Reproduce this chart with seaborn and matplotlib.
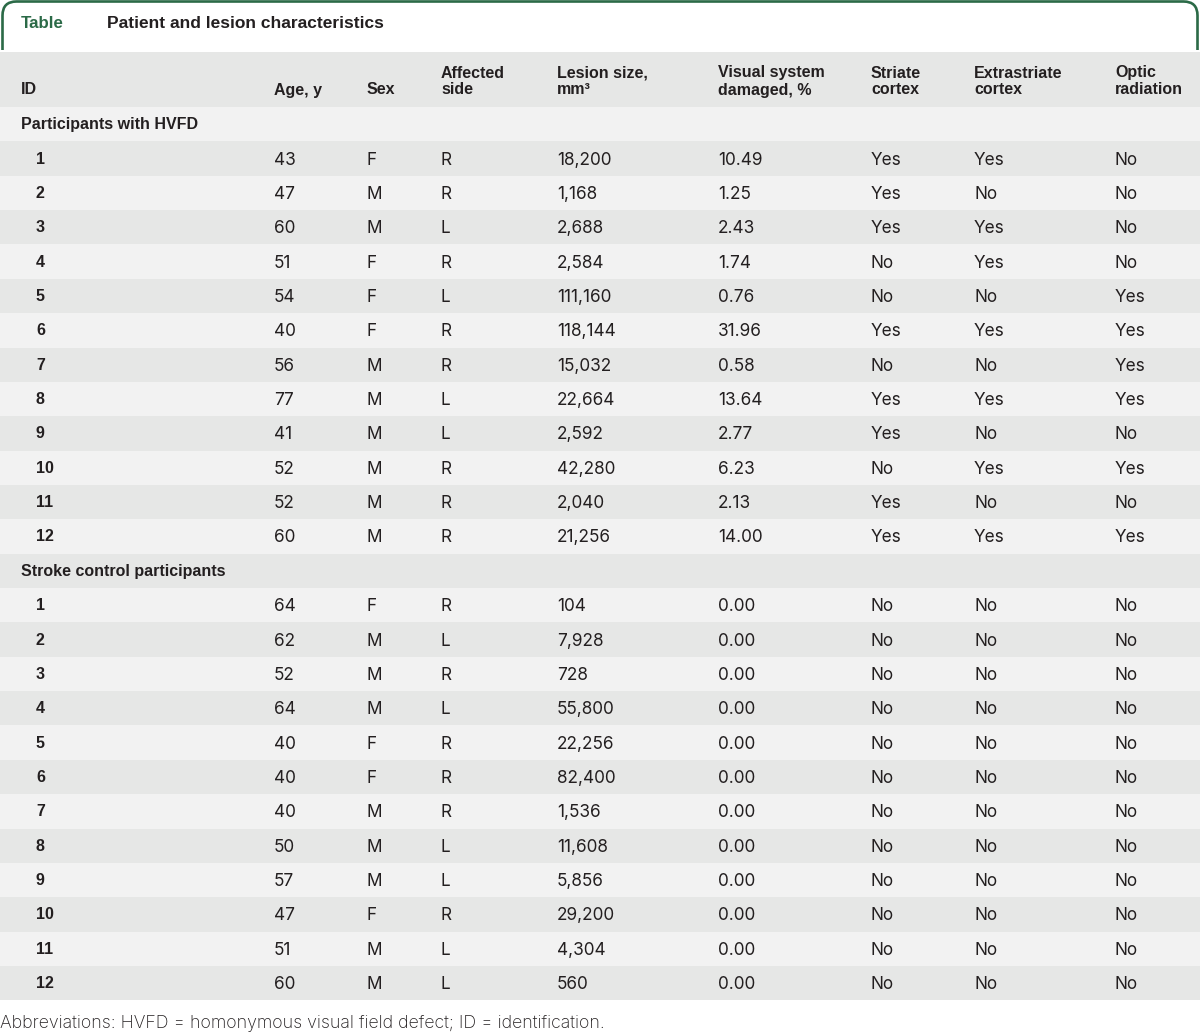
import matplotlib
matplotlib.use("Agg")
import matplotlib.pyplot as plt
import seaborn as sns
import numpy as np
import pandas as pd
from matplotlib.patches import FancyBboxPatch, Rectangle

# ---- table data ----
groups = ["Participants with HVFD", "Stroke control participants"]
ids = list(range(1, 13))

hvfd_age = [43, 47, 60, 51, 54, 40, 56, 77, 41, 52, 52, 60]
hvfd_sex = ["F", "M", "M", "F", "F", "F", "M", "M", "M", "M", "M", "M"]
hvfd_side = ["R", "R", "L", "R", "L", "R", "R", "L", "L", "R", "R", "R"]
hvfd_lesion = [18200, 1168, 2688, 2584, 111160, 118144, 15032, 22664, 2592, 42280, 2040, 21256]
hvfd_visual = [10.49, 1.25, 2.43, 1.74, 0.76, 31.96, 0.58, 13.64, 2.77, 6.23, 2.13, 14.00]
hvfd_striate = ["Yes", "Yes", "Yes", "No", "No", "Yes", "No", "Yes", "Yes", "No", "Yes", "Yes"]
hvfd_extra = ["Yes", "No", "Yes", "Yes", "No", "Yes", "No", "Yes", "No", "Yes", "No", "Yes"]
hvfd_optic = ["No", "No", "No", "No", "Yes", "Yes", "Yes", "Yes", "No", "Yes", "No", "Yes"]

ctrl_age = [64, 62, 52, 64, 40, 40, 40, 50, 57, 47, 51, 60]
ctrl_sex = ["F", "M", "M", "M", "F", "F", "M", "M", "M", "F", "M", "M"]
ctrl_side = ["R", "L", "R", "L", "R", "R", "R", "L", "L", "R", "L", "L"]
ctrl_lesion = [104, 7928, 728, 55800, 22256, 82400, 1536, 11608, 5856, 29200, 4304, 560]
ctrl_visual = [0.0] * 12
ctrl_striate = ["No"] * 12
ctrl_extra = ["No"] * 12
ctrl_optic = ["No"] * 12

headers = ["ID", "Age, y", "Sex", "Affected\nside", "Lesion size,\nmm³",
           "Visual system\ndamaged, %", "Striate\ncortex", "Extrastriate\ncortex",
           "Optic\nradiation"]
title = "Patient and lesion characteristics"
footnote = "Abbreviations: HVFD = homonymous visual field defect; ID = identification."


def group_frame(name, age, sex, side, lesion, visual, striate, extra, optic):
    return pd.DataFrame({
        "group": name, "id": ids, "age": age, "sex": sex, "side": side,
        "lesion": [f"{v:,}" for v in lesion],
        "visual": [f"{v:.2f}" for v in visual],
        "striate": striate, "extra": extra, "optic": optic,
    })


df = pd.concat([
    group_frame(groups[0], hvfd_age, hvfd_sex, hvfd_side, hvfd_lesion, hvfd_visual,
                hvfd_striate, hvfd_extra, hvfd_optic),
    group_frame(groups[1], ctrl_age, ctrl_sex, ctrl_side, ctrl_lesion, ctrl_visual,
                ctrl_striate, ctrl_extra, ctrl_optic),
], ignore_index=True)

# ---- styling / layout ----
sns.set_theme(style="white")
plt.rcParams["font.family"] = ["Liberation Sans", "DejaVu Sans"]
BODY_FONT = ["Inter", "DejaVu Sans"]

GREEN = "#2b6a47"
TEXT = "#231f20"
LIGHT = "#f2f2f2"
DARK = "#e6e7e6"

col_x = [21, 274, 367, 441, 557, 718, 871, 974, 1115]
value_cols = ["age", "sex", "side", "lesion", "visual", "striate", "extra", "optic"]
body_top = 107
row_h = 34.36
fs = 11.5      # bold header text
fs_body = 12.4  # regular cell text
dy = 1.5        # small baseline nudge for cell text

fig = plt.figure(figsize=(12, 10.35), dpi=100)
ax = fig.add_axes([0, 0, 1, 1])
ax.set_xlim(0, 1200)
ax.set_ylim(1035, 0)
ax.axis("off")

# green tab frame
frame = FancyBboxPatch((2.5, 1.5), 1195, 120, boxstyle="round,pad=0,rounding_size=14",
                       facecolor="none", edgecolor=GREEN, linewidth=1.9, zorder=1)
ax.add_patch(frame)
ax.add_patch(Rectangle((0, 49.5), 1200, 60, facecolor="white", edgecolor="none", zorder=2))
ax.text(21, 24, "Table", color=GREEN, fontsize=12.2, fontweight="bold", va="center", zorder=5)
ax.text(107, 24, title, color=TEXT, fontsize=12.5, fontweight="bold", va="center", zorder=5)

# header band
ax.add_patch(Rectangle((0, 52), 1200, body_top - 52, facecolor=DARK, edgecolor="none", zorder=3))
for x, h in zip(col_x, headers):
    lines = h.split("\n")
    if len(lines) == 1:
        ax.text(x, 90, lines[0], fontsize=fs, fontweight="bold", color=TEXT, va="center", zorder=5)
    else:
        ax.text(x, 73, lines[0], fontsize=fs, fontweight="bold", color=TEXT, va="center", zorder=5)
        ax.text(x, 90, lines[1], fontsize=fs, fontweight="bold", color=TEXT, va="center", zorder=5)

# body rows: section row + 12 rows per group, alternating stripes
r = 0
for g in groups:
    sub = df[df["group"] == g]
    y0 = body_top + r * row_h
    ax.add_patch(Rectangle((0, y0), 1200, row_h, facecolor=LIGHT if r % 2 == 0 else DARK,
                           edgecolor="none", zorder=3))
    ax.text(col_x[0], y0 + row_h / 2 + 0.5, g, fontsize=fs, fontweight="bold", color=TEXT,
            va="center", zorder=5)
    r += 1
    for _, row in sub.iterrows():
        y0 = body_top + r * row_h
        yc = y0 + row_h / 2
        ax.add_patch(Rectangle((0, y0), 1200, row_h, facecolor=LIGHT if r % 2 == 0 else DARK,
                               edgecolor="none", zorder=3))
        ax.text(col_x[0] + 15, yc + 0.5, str(row["id"]), fontsize=fs, fontweight="bold",
                color=TEXT, va="center", zorder=5)
        for x, c in zip(col_x[1:], value_cols):
            ax.text(x, yc + dy, str(row[c]), fontsize=fs_body, color=TEXT, va="center",
                    family=BODY_FONT, zorder=5)
        r += 1

ax.text(0, 1023, footnote, fontsize=12.8, color=TEXT, va="center", family=BODY_FONT,
        fontweight="light", zorder=5)

fig.savefig("out.png", dpi=100, facecolor="white")
